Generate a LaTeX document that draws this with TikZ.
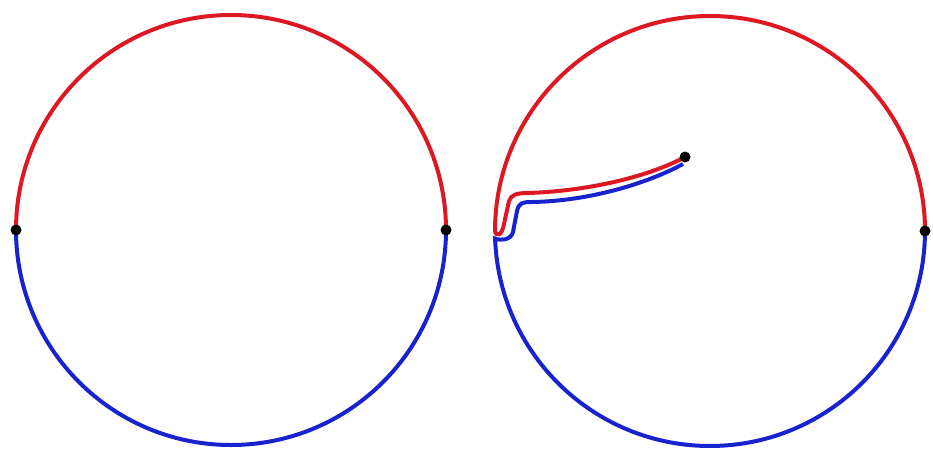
\documentclass[tikz,border=0pt]{standalone}
\definecolor{cred}{RGB}{222,24,34}
\definecolor{cblue}{RGB}{24,34,206}
\begin{document}
\begin{tikzpicture}[x=1pt,y=-1pt,
  redline/.style={draw=cred,line width=4pt},
  blueline/.style={draw=cblue,line width=4pt},
  pt/.style={circle,fill=black,inner sep=0pt,minimum size=11pt}]
\useasboundingbox (0,0) rectangle (933,452);
% left circle, centre (231,230), radius 215
\coordinate (C1) at (231,230);
\coordinate (A0) at (16,230);
\coordinate (B0) at (446,230);
\draw[redline] (B0) arc[start angle=0,end angle=-180,radius=215];
\draw[blueline] (B0) arc[start angle=0,end angle=180,radius=215];
\node[pt] (A) at (A0) {};
\node[pt] (B) at (B0) {};
% right circle, centre (710,231), radius 215
\coordinate (C2) at (710,231);
\coordinate (Rr) at (925,231);
\coordinate (Lb) at (495.1,238.5);
\coordinate (T) at (685,157);
\draw[redline] (Rr) arc[start angle=0,end angle=-180,radius=215]
  .. controls (496,237) and (502,236) .. (504,224) -- (509,201)
  .. controls (511,195) and (516,193) .. (528,193)
  .. controls (590,191) and (650,176) .. (T);
\draw[blueline] (T) ++(-2,7)
  .. controls (650,182) and (592,201) .. (532,202)
  .. controls (522,202) and (519,203) .. (517,211) -- (513,232)
  .. controls (511,240) and (501,241) .. (Lb)
  arc[start angle=178,end angle=0,radius=215];
\node[pt] (R) at (Rr) {};
\node[pt] (Tip) at (T) {};
\end{tikzpicture}
\end{document}
